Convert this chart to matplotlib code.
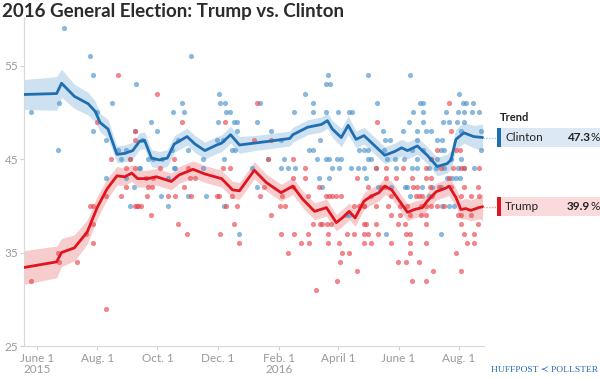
import pandas as pd
import matplotlib
matplotlib.use("Agg")
import matplotlib.pyplot as plt
import matplotlib.transforms as mtransforms
from matplotlib.patches import Rectangle

START = pd.Timestamp("2015-06-01")

# trend estimates (days since 2015-06-01, percent, band half-width)
clinton_trend_days = [-13, 20, 25, 38, 52, 59, 64, 72, 81, 89, 97, 104, 109, 116, 124, 132, 139,
                      152, 160, 170, 182, 187, 196, 205, 220, 235, 256, 259, 274, 288, 294, 299,
                      308, 315, 323, 331, 341, 352, 362, 369, 375, 385, 395, 405, 415, 419, 424,
                      432, 442, 451]
clinton_trend = [51.9, 52.0, 53.1, 51.7, 50.9, 50.1, 48.9, 48.2, 45.5, 45.6, 45.9, 46.9, 47.0,
                 45.1, 44.9, 45.1, 46.6, 47.4, 46.6, 45.9, 46.5, 46.7, 47.6, 46.5, 46.7, 46.9,
                 47.2, 47.6, 48.4, 48.7, 49.1, 48.2, 47.3, 48.6, 47.1, 47.5, 46.5, 45.4, 45.8,
                 46.2, 45.9, 46.4, 45.4, 44.2, 44.5, 44.9, 47.1, 47.8, 47.4, 47.3]
clinton_band = [1.6, 1.8, 1.5, 1.3, 1.2, 1.1, 1.0, 1.0, 0.9, 0.9, 0.9, 0.9, 0.9, 0.9, 0.9, 0.9,
                0.9, 0.9, 0.9, 0.9, 0.9, 0.9, 0.9, 0.9, 0.8, 0.8, 0.8, 0.8, 0.8, 0.8, 0.8, 0.9,
                1.0, 1.0, 0.9, 0.9, 0.9, 0.9, 0.9, 0.9, 0.9, 0.9, 0.9, 1.0, 1.0, 1.0, 1.1, 1.1,
                1.2, 1.4]

trump_trend_days = [-13, 20, 25, 38, 51, 61, 71, 81, 89, 96, 102, 112, 121, 136, 144, 158, 170,
                    187, 198, 205, 220, 232, 247, 259, 269, 281, 293, 303, 309, 316, 322, 331,
                    338, 346, 352, 359, 367, 375, 382, 390, 395, 404, 414, 417, 424, 429, 434,
                    439, 447, 451]
trump_trend = [33.4, 34.0, 35.0, 35.5, 37.2, 39.8, 41.8, 43.2, 43.1, 43.5, 42.9, 42.9, 43.1,
               42.6, 43.3, 43.9, 43.4, 42.9, 41.7, 41.6, 43.8, 42.5, 41.4, 42.1, 40.7, 39.4,
               39.8, 38.2, 38.7, 39.4, 38.7, 40.5, 41.0, 41.4, 42.1, 41.7, 40.5, 39.3, 39.6,
               39.8, 40.5, 41.5, 41.9, 42.1, 40.9, 39.6, 39.7, 39.5, 39.8, 39.9]
trump_band = [1.8, 1.7, 1.5, 1.4, 1.3, 1.2, 1.1, 1.0, 0.9, 0.9, 0.9, 0.9, 0.9, 0.9, 0.9, 0.9,
              0.9, 0.9, 0.9, 0.9, 0.9, 0.9, 0.9, 0.9, 0.9, 0.9, 0.9, 0.9, 0.9, 0.9, 0.9, 0.9,
              0.9, 0.9, 0.9, 0.9, 0.9, 0.9, 0.9, 0.9, 0.9, 0.9, 0.9, 1.0, 1.0, 1.0, 1.1, 1.1,
              1.2, 1.4]

# individual polls (days since 2015-06-01, percent)
clinton_poll_days = [27, 54, 57, 100, -6, 22, 76, 61, 57, 70, 21, 82, 90, 85, 94, 70, 90, 98, 94,
                     103, 99,
                     156, 184, 185, 190, 147, 138, 149, 191, 195, 115, 183, 199, 203, 122, 202,
                     106, 143, 182, 188, 137, 153, 197, 200, 112, 118, 127, 168, 189, 104, 133,
                     139, 140, 168, 126, 153, 171, 133, 189, 205,
                     295, 293, 297, 335, 271, 279, 226, 260, 279, 293, 305, 316, 319, 223, 237,
                     286, 247, 275, 279, 326, 335, 250, 283, 293, 296, 304, 308, 335, 218, 247,
                     254, 261, 299, 306, 318, 325, 234, 223, 285, 296, 289, 313, 316,
                     378, 427, 344, 388, 391, 431, 434, 441, 381, 391, 414, 426, 432, 440, 447,
                     377, 391, 411, 417, 425, 432, 350, 370, 385, 394, 399, 429, 449, 352, 357,
                     385, 405, 410, 331, 351, 380, 391, 409, 412, 449, 338, 354, 362, 371, 385,
                     399, 405, 419, 429, 331, 343, 363, 380, 385, 397, 404, 412, 426, 432, 442,
                     333, 415, 420, 424, 428, 345, 358, 372, 375, 390, 400, 409, 378, 397, 410,
                     422, 417, 353, 409]
clinton_poll_vals = [59, 56, 54, 53, 50, 51, 51, 50, 48, 47, 46, 46, 46, 45, 45, 43, 43, 42, 40,
                     44, 48,
                     56, 52, 51, 51, 51, 50, 50, 50, 50, 49, 49, 49, 49, 48, 48, 47, 47, 47, 47,
                     46, 46, 46, 46, 45, 45, 45, 45, 45, 44, 43, 44, 44, 44, 41, 41, 41, 40, 40,
                     37,
                     54, 53, 53, 54, 52, 51, 51, 50, 50, 50, 50, 50, 50, 49, 48, 47, 47, 46, 46,
                     46, 46, 45, 45, 45, 45, 45, 45, 45, 44, 44, 44, 44, 44, 44, 44, 44, 45, 42,
                     43, 43, 42, 39, 39,
                     54, 52, 51, 51, 51, 51, 51, 51, 50, 50, 50, 50, 50, 50, 50, 49, 49, 49, 49,
                     49, 49, 48, 48, 48, 48, 48, 48, 48, 47, 47, 47, 47, 47, 46, 46, 46, 46, 46,
                     46, 46, 45, 45, 45, 45, 45, 45, 45, 45, 45, 44, 44, 44, 44, 44, 44, 44, 44,
                     44, 44, 44, 43, 43, 43, 43, 43, 42, 42, 42, 42, 42, 42, 42, 41, 41, 40, 40,
                     40, 37, 37]

trump_poll_days = [82, 61, 99, 99, 75, 94, 90, 99, 90, 85, 99, 102, 54, 57, 70, 57, 50, 57, 21,
                   22, 41, -6, 70,
                   122, 147, 190, 220, 125, 139, 153, 160, 188, 195, 118, 110, 155, 112, 117,
                   149, 111, 133, 140, 156, 182, 184, 197, 101, 105, 191, 202, 115, 143, 199,
                   152, 185, 205,
                   223, 237, 259, 271, 259, 271, 324, 230, 259, 285, 226, 248, 274, 293, 296,
                   299, 303, 308, 246, 251, 321, 326, 331, 237, 279, 286, 289, 294, 298, 333,
                   314, 321, 331, 247, 260, 274, 295, 267, 275, 295, 306, 254, 309, 316, 307,
                   324, 304, 282, 234,
                   417, 344, 419, 405, 424, 428, 399, 343, 353, 370, 394, 409, 421, 429, 432,
                   447, 353, 363, 380, 394, 399, 417, 335, 348, 352, 381, 385, 398, 407, 419,
                   432, 446, 338, 358, 384, 387, 390, 400, 429, 439, 447, 331, 343, 355, 367,
                   375, 389, 394, 399, 405, 412, 358, 367, 378, 389, 394, 426, 429, 439, 331,
                   343, 365, 372, 394, 429, 446, 335, 345, 373, 378, 432, 442, 331, 338, 358,
                   378, 394, 435, 442, 378, 424, 365, 373, 387, 401, 429, 380, 394]
trump_poll_vals = [54, 49, 48, 47, 45, 45, 44, 44, 42, 41, 40, 40, 40, 40, 41, 38, 37, 36, 35,
                   34, 34, 32, 29,
                   52, 49, 49, 47, 44, 45, 44, 43, 44, 44, 43, 43, 43, 42, 42, 42, 41, 41, 41,
                   41, 41, 41, 41, 40, 40, 40, 40, 39, 38, 38, 37, 37, 36,
                   51, 47, 45, 44, 43, 43, 43, 42, 42, 42, 41, 41, 41, 41, 41, 41, 41, 41, 40,
                   40, 40, 40, 40, 39, 38, 38, 38, 38, 38, 38, 37, 37, 37, 37, 37, 37, 37, 36,
                   36, 36, 36, 35, 35, 35, 34, 33, 32, 31, 45,
                   51, 49, 48, 46, 46, 46, 45, 44, 44, 44, 44, 44, 44, 44, 44, 44, 43, 43, 43,
                   43, 43, 43, 42, 42, 42, 42, 42, 42, 42, 42, 42, 42, 41, 41, 41, 41, 41, 41,
                   41, 41, 41, 40, 40, 40, 40, 40, 40, 40, 40, 40, 40, 39, 39, 39, 39, 39, 39,
                   39, 39, 38, 38, 38, 38, 38, 38, 38, 37, 37, 37, 37, 37, 37, 36, 36, 36, 36,
                   36, 36, 36, 35, 35, 34, 34, 34, 33, 33, 32, 32]

y_ticks = [25, 35, 45, 55]
x_tick_dates = ["2015-06-01", "2015-08-01", "2015-10-01", "2015-12-01", "2016-02-01",
                "2016-04-01", "2016-06-01", "2016-08-01"]
x_tick_labels = ["June 1\n2015", "Aug. 1", "Oct. 1", "Dec. 1", "Feb. 1\n2016", "April 1",
                 "June 1", "Aug. 1"]


def to_dates(days):
    return START + pd.to_timedelta(days, unit="D")


plt.rcParams["font.family"] = ["Lato", "DejaVu Sans"]

fig = plt.figure(figsize=(6, 3.79), dpi=100)
ax = fig.add_axes([0.04, 0.087, 0.766, 0.866])

series = [
    ("Clinton", clinton_trend_days, clinton_trend, clinton_band, clinton_poll_days,
     clinton_poll_vals, "#1f6eb0", "#4d93cc", "#c5dcef"),
    ("Trump", trump_trend_days, trump_trend, trump_band, trump_poll_days,
     trump_poll_vals, "#e0141e", "#e8474f", "#f6c3c5"),
]

for name, td, tv, tb, pdays, pvals, line_c, dot_c, band_c in series:
    x = to_dates(td)
    lo = [v - b for v, b in zip(tv, tb)]
    hi = [v + b for v, b in zip(tv, tb)]
    ax.fill_between(x, lo, hi, color=band_c, alpha=0.85, lw=0, zorder=1)
    ax.scatter(to_dates(pdays), pvals, s=14, color=dot_c, alpha=0.65, lw=0, zorder=2)

for name, td, tv, tb, pdays, pvals, line_c, dot_c, band_c in series:
    ax.plot(to_dates(td), tv, color=line_c, lw=2.0, zorder=3, solid_capstyle="round")

ax.set_xlim(to_dates([-13])[0], to_dates([452])[0])
ax.set_ylim(25, 60.1)
ax.set_yticks(y_ticks)
ax.set_yticklabels([str(t) for t in y_ticks])
ax.set_xticks(pd.to_datetime(x_tick_dates))
ax.set_xticklabels(x_tick_labels, linespacing=1.05)

for side in ["top", "right"]:
    ax.spines[side].set_visible(False)
for side in ["left", "bottom"]:
    ax.spines[side].set_color("#d9d9d9")
    ax.spines[side].set_linewidth(0.8)
ax.tick_params(axis="both", colors="#d0d0d0", labelcolor="#9a9a9a", labelsize=8.5,
               length=3, width=0.8)
ax.tick_params(axis="y", pad=1)
ax.tick_params(axis="x", pad=2)

fig.text(0.003, 0.992, "2016 General Election: Trump vs. Clinton", fontsize=13.5,
         fontweight="bold", color="#2b2b2b", va="top", ha="left")

# trend legend on the right, aligned with the last estimates
blend = mtransforms.blended_transform_factory(fig.transFigure, ax.transData)
fig.text(0.833, 0.691, "Trend", fontsize=8, fontweight="bold", color="#222222",
         va="center", ha="left")
legend_rows = [("Clinton", clinton_trend[-1], "#1f6eb0", "#dce9f5", "#aecde8"),
               ("Trump", trump_trend[-1], "#e0141e", "#fadadb", "#f0a3a6")]
for name, val, strong, soft, dotted in legend_rows:
    ax.plot([to_dates([451])[0], to_dates([465])[0]], [val, val], ls=(0, (1, 1)),
            color=dotted, lw=1, clip_on=False, zorder=3)
    ax.add_patch(Rectangle((0.828, val - 1.0), 0.172, 2.0, transform=blend,
                           facecolor=soft, edgecolor="none", clip_on=False))
    ax.add_patch(Rectangle((0.828, val - 1.0), 0.0075, 2.0, transform=blend,
                           facecolor=strong, edgecolor="none", clip_on=False))
    ax.text(0.842, val, name, transform=blend, fontsize=8.5, color="#222222",
            va="center", ha="left")
    num = ax.text(0.983, val, f"{val:.1f}", transform=blend, fontsize=8.5,
                  fontweight="bold", color="#222222", va="center", ha="right")
    ax.annotate("%", xy=(1, 0.5), xycoords=num, xytext=(0.3, 0),
                textcoords="offset points", fontsize=8.5, color="#222222",
                va="center", ha="left")

fig.text(0.997, 0.025, "HUFFPOST \u227a POLLSTER",
         fontsize=6.8, color="#2a6cb3", ha="right", va="center",
         family=["Liberation Serif", "DejaVu Serif", "DejaVu Sans"])

fig.savefig("out.png", dpi=100)
